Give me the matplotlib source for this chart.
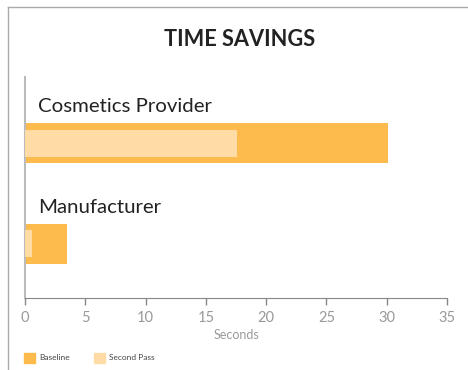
"""Time savings bullet-style bar chart."""
import matplotlib
matplotlib.use("Agg")
import matplotlib.pyplot as plt
from matplotlib.lines import Line2D
from matplotlib.patches import Rectangle

categories = ["Cosmetics Provider", "Manufacturer"]
baseline = [30.1, 3.5]
second_pass = [17.6, 0.6]
x_ticks = [0, 5, 10, 15, 20, 25, 30, 35]

BASE_COLOR = "#fdbb4d"
SECOND_COLOR = "#ffdca6"

plt.rcParams["font.family"] = ["Lato", "DejaVu Sans"]

fig = plt.figure(figsize=(4.68, 3.70), dpi=100)
ax = fig.add_axes([25 / 468, 72 / 370, 422 / 468, 221 / 370])

ypos = [1.40, 0.49]
ax.barh(ypos, baseline, height=0.36, color=BASE_COLOR, zorder=2)
ax.barh(ypos, second_pass, height=0.245, color=SECOND_COLOR, zorder=3)

for y, name in zip(ypos, categories):
    ax.text(1.1, y + 0.33, name, fontsize=14.7, color="#222222",
            va="center", ha="left")

ax.set_xlim(0, 35)
ax.set_ylim(0, 2)
ax.set_xticks(x_ticks)
ax.set_xticklabels([str(t) for t in x_ticks])
ax.set_yticks([])
ax.tick_params(axis="x", colors="#888888", labelcolor="#999999",
               labelsize=10.5, length=5, width=1, pad=4)
ax.set_xlabel("Seconds", fontsize=9, color="#999999", labelpad=3)

for side in ("top", "right"):
    ax.spines[side].set_visible(False)
ax.spines["bottom"].set_color("#888888")
ax.spines["left"].set_color("#bbbbbb")
ax.spines["left"].set_linewidth(1.5)

fig.text(240 / 468, 1 - 40 / 370, "TIME SAVINGS", fontsize=15.7,
         fontweight="bold", color="#222222", ha="center", va="center")

# frame lines at the top and left
fig.add_artist(Line2D([8 / 468, 1], [1 - 7 / 370, 1 - 7 / 370],
                      color="#aaaaaa", lw=1))
fig.add_artist(Line2D([8 / 468, 8 / 468], [0, 1 - 7 / 370],
                      color="#aaaaaa", lw=1))

# legend
legend_items = [("Baseline", BASE_COLOR, 24), ("Second Pass", SECOND_COLOR, 94)]
for label, color, x0 in legend_items:
    fig.add_artist(Rectangle((x0 / 468, 1 - 363 / 370), 11 / 468, 10 / 370,
                             color=color, transform=fig.transFigure))
    fig.text((x0 + 15) / 468, 1 - 358 / 370, label, fontsize=6,
             color="#444444", va="center", ha="left")

fig.savefig("out.png", dpi=100)
